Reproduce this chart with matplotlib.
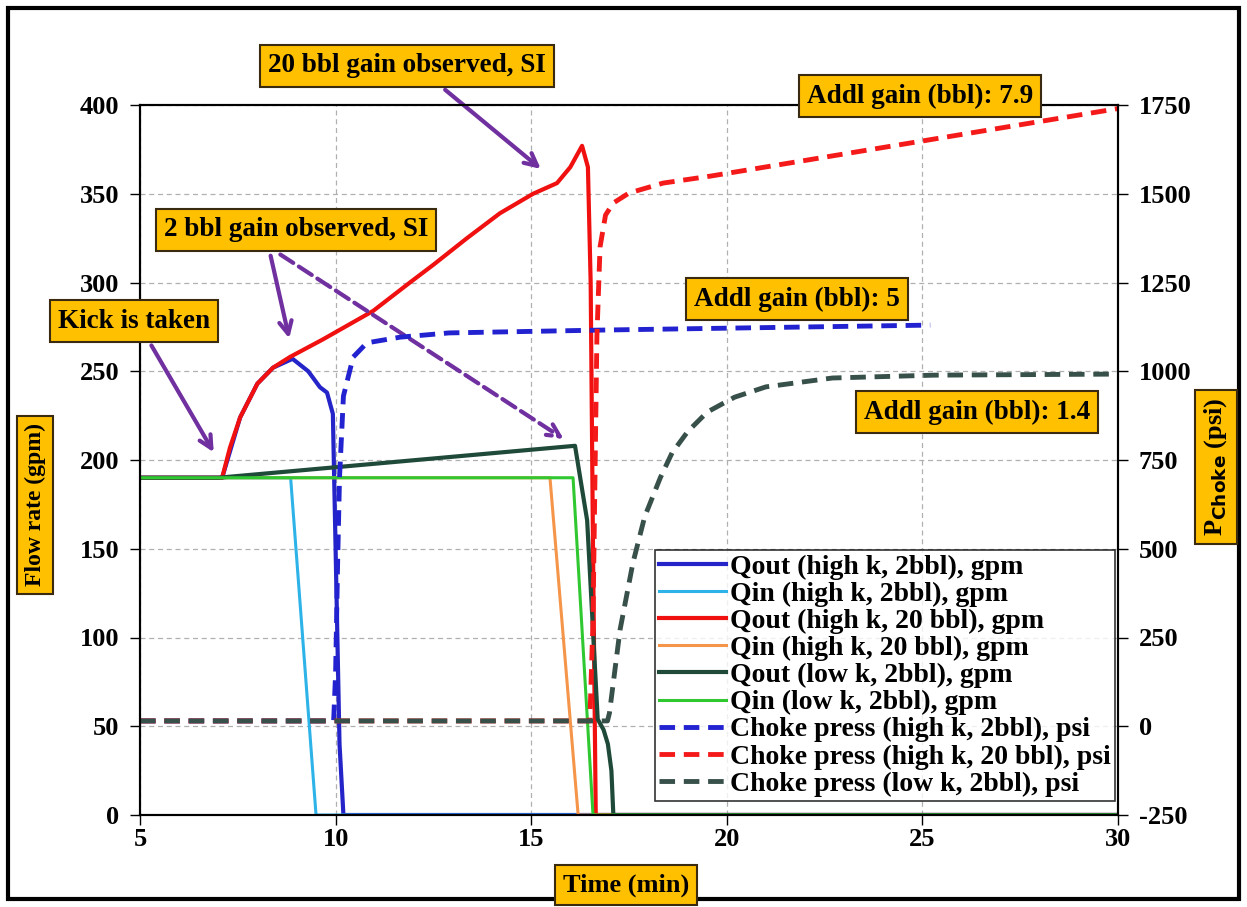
import matplotlib
matplotlib.use("Agg")
import matplotlib.pyplot as plt
from matplotlib.patches import Rectangle

# Flow rates (gpm) vs time (min)
t_qout_hk2 = [5, 7.1, 7.56, 8.0, 8.4, 8.9, 9.3, 9.6, 9.78, 9.93, 10.0, 10.1, 10.2, 30]
q_qout_hk2 = [190, 190, 224, 243, 252, 257, 250, 241, 238, 226, 150, 40, 0, 0]

t_qin_hk2 = [5, 8.85, 9.5, 30]
q_qin_hk2 = [190, 190, 0, 0]

t_qout_hk20 = [5, 7.1, 7.3, 7.56, 8.0, 8.4, 8.83, 9.68, 10.96, 11.9, 12.5, 13.36,
               14.2, 15.05, 15.66, 16.0, 16.3, 16.45, 16.52, 16.58, 16.65, 30]
q_qout_hk20 = [190, 190, 207, 224, 243, 252, 258, 268, 284, 300, 310, 325,
               339, 350, 356, 365, 377, 365, 300, 150, 0, 0]

t_qin_hk20 = [5, 15.48, 16.2, 30]
q_qin_hk20 = [190, 190, 0, 0]

t_qout_lk2 = [5, 7.0, 16.12, 16.43, 16.7, 16.85, 16.96, 17.05, 17.1, 30]
q_qout_lk2 = [190, 190, 208, 166, 54, 48, 40, 25, 0, 0]

t_qin_lk2 = [5, 16.07, 16.58, 30]
q_qin_lk2 = [190, 190, 0, 0]

# Choke pressures (psi) vs time (min)
t_pc_hk2 = [5, 9.95, 10.0, 10.05, 10.1, 10.2, 10.45, 10.8, 11.65, 12.9, 16.8, 25.2]
p_pc_hk2 = [15, 15, 150, 450, 700, 930, 1040, 1080, 1096, 1108, 1116, 1130]

t_pc_hk20 = [5, 16.5, 16.58, 16.63, 16.68, 16.76, 16.9, 17.1, 17.5, 18.37, 19.6, 30]
p_pc_hk20 = [15, 15, 300, 700, 1100, 1350, 1440, 1474, 1502, 1530, 1550, 1740]

t_pc_lk2 = [5, 16.95, 17.0, 17.27, 17.6, 17.9, 18.3, 18.6, 19.0, 19.5, 20.2,
            21.0, 22.7, 25.3, 30]
p_pc_lk2 = [15, 15, 37, 271, 460, 590, 700, 770, 830, 885, 927, 956, 981, 989, 992]

labels = ["Qout (high k, 2bbl), gpm", "Qin (high k, 2bbl), gpm",
          "Qout (high k, 20 bbl), gpm", "Qin (high k, 20 bbl), gpm",
          "Qout (low k, 2bbl), gpm", "Qin (low k, 2bbl), gpm",
          "Choke press (high k, 2bbl), psi", "Choke press (high k, 20 bbl), psi",
          "Choke press (low k, 2bbl), psi"]

x_ticks = [5, 10, 15, 20, 25, 30]
q_ticks = list(range(0, 401, 50))
p_ticks = list(range(-250, 1751, 250))

plt.rcParams["font.family"] = ["Liberation Serif", "DejaVu Serif"]
plt.rcParams["font.weight"] = "bold"
plt.rcParams["axes.unicode_minus"] = False

W, H = 1247, 907
fig = plt.figure(figsize=(W / 100, H / 100), dpi=100)
ax = fig.add_axes([140 / W, 1 - 815 / H, (1118 - 140) / W, (815 - 105) / H])
ax2 = ax.twinx()

gold = "#FFC000"
purple = "#7030A0"
box = dict(boxstyle="square,pad=0.3", fc=gold, ec="#3a2a10", lw=1.5)

h = []
h += ax.plot(t_qout_hk2, q_qout_hk2, color="#2424C8", lw=3)
h += ax.plot(t_qin_hk2, q_qin_hk2, color="#2DB3E8", lw=2.2)
h += ax.plot(t_qout_hk20, q_qout_hk20, color="#F01010", lw=3)
h += ax.plot(t_qin_hk20, q_qin_hk20, color="#F5954A", lw=2.2)
h += ax.plot(t_qout_lk2, q_qout_lk2, color="#1F4A3A", lw=3)
h += ax.plot(t_qin_lk2, q_qin_lk2, color="#30C830", lw=2.2)

h += ax2.plot(t_pc_hk2, p_pc_hk2, color="#2222D0", lw=3.5, dashes=(3.2, 1.8))
h += ax2.plot(t_pc_hk20, p_pc_hk20, color="#F51A1A", lw=3.5, dashes=(3.2, 1.8))
h += ax2.plot(t_pc_lk2, p_pc_lk2, color="#38504A", lw=3.5, dashes=(3.2, 1.8))

ax.set_xlim(5, 30)
ax.set_ylim(0, 400)
ax2.set_ylim(-250, 1750)
ax.set_xticks(x_ticks)
ax.set_yticks(q_ticks)
ax2.set_yticks(p_ticks)
ax.grid(True, color="#b0b0b0", ls=(0, (4, 3)), lw=0.9)
for a in (ax, ax2):
    a.tick_params(labelsize=19, length=7, width=1, direction="out", pad=8)
    for s in a.spines.values():
        s.set_linewidth(1.5)
ax.tick_params(axis="x", pad=2)

leg = ax2.legend(h, labels, loc="lower right", bbox_to_anchor=(0.997, 0.02),
                 fontsize=20, frameon=True, fancybox=False, edgecolor="black",
                 handlelength=2.4, handletextpad=0.15, labelspacing=0.06,
                 borderpad=0.15, borderaxespad=0)
leg.get_frame().set_linewidth(1.2)

# Axis titles in boxes
fig.text(35 / W, 1 - 505 / H, "Flow rate (gpm)", rotation=90, ha="center",
         va="center", fontsize=17, bbox=box)
fig.text(1216 / W, 1 - 467 / H, r"P$_{\mathbf{Choke}}$ (psi)", rotation=90,
         ha="center", va="center", fontsize=19, bbox=box)
fig.text(626 / W, 1 - 885 / H, "Time (min)", ha="center", va="center",
         fontsize=19, bbox=box)

# Event labels
notes = [("Kick is taken", 134, 321), ("2 bbl gain observed, SI", 296, 230),
         ("20 bbl gain observed, SI", 407, 66), ("Addl gain (bbl): 7.9", 920, 96),
         ("Addl gain (bbl): 5", 797, 299), ("Addl gain (bbl): 1.4", 977, 412)]
for txt, px, py in notes:
    fig.text(px / W, 1 - py / H, txt, ha="center", va="center", fontsize=19.5,
             bbox=box, zorder=10)

arrows = [((150, 343), (6.92, 203), "-"),
          ((270, 253), (8.83, 267), "-"),
          ((278, 253), (15.89, 211), "--"),
          ((443, 88), (15.3, 363), "-")]
for (px, py), tip, ls in arrows:
    ax.annotate("", xy=tip, xycoords="data",
                xytext=(px / W, 1 - py / H), textcoords="figure fraction",
                arrowprops=dict(arrowstyle="->,head_length=0.9,head_width=0.45",
                                color=purple, lw=3, ls=ls), zorder=9)

# Outer frame
fig.patches.append(Rectangle((8 / W, 8 / H), 1 - 16 / W, 1 - 16 / H,
                             transform=fig.transFigure, fill=False,
                             ec="black", lw=3))

fig.savefig("out.png", dpi=100)
